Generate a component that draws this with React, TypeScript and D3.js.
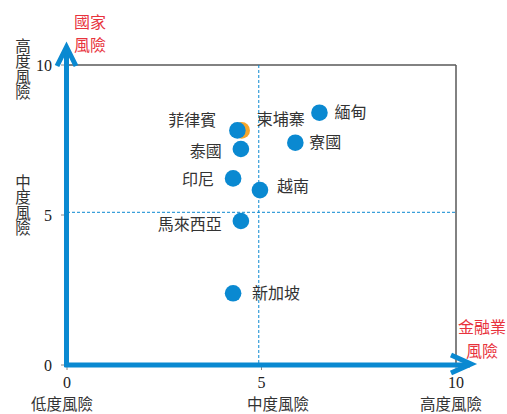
import React from "react";
import * as d3 from "d3";

// ---- data ----
const countries = ["緬甸", "寮國", "柬埔寨", "菲律賓", "泰國", "印尼", "越南", "馬來西亞", "新加坡"];
const financialRisk = [6.49, 5.87, 4.49, 4.38, 4.47, 4.27, 4.96, 4.47, 4.27];
const countryRisk = [8.41, 7.41, 7.82, 7.82, 7.2, 6.22, 5.83, 4.8, 2.39];
const seriesOf = ["blue", "blue", "orange", "blue", "blue", "blue", "blue", "blue", "blue"];
const xTicks = [0, 5, 10];
const yTicks = [0, 5, 10];
const xLevelLabels = ["低度風險", "中度風險", "高度風險"];
const yLevelLabels = ["高度風險", "中度風險"];
const refX = 4.93;
const refY = 5.09;

// ---- layout (label placement relative to each point) ----
const labelLayout: Record<string, { dx: number; dy: number; anchor: string }> = {
  "緬甸": { dx: 15, dy: 0, anchor: "start" },
  "寮國": { dx: 14, dy: 0, anchor: "start" },
  "柬埔寨": { dx: 15, dy: -11, anchor: "start" },
  "菲律賓": { dx: -21, dy: -10, anchor: "end" },
  "泰國": { dx: -19, dy: 2, anchor: "end" },
  "印尼": { dx: -19, dy: 1, anchor: "end" },
  "越南": { dx: 17, dy: -4, anchor: "start" },
  "馬來西亞": { dx: -19, dy: 3, anchor: "end" },
  "新加坡": { dx: 19, dy: 0, anchor: "start" },
};

const W = 507;
const H = 414;
const BLUE = "#0a89d1";
const ORANGE = "#f4a62c";
const RED = "#e8333d";
const CJK = "'Noto Sans CJK TC', 'Noto Sans CJK SC', sans-serif";
const NUM = "'Liberation Serif', serif";

export default function App() {
  const x = d3.scaleLinear().domain([0, 10]).range([67, 456]);
  const y = d3.scaleLinear().domain([0, 10]).range([365, 65]);
  const [x0, x1] = x.range();
  const [y0, y1] = y.range();

  const order = d3.range(countries.length).sort((a, b) =>
    seriesOf[a] === seriesOf[b] ? 0 : seriesOf[a] === "orange" ? -1 : 1
  );

  const ax = x0 - 0.5;
  const ay = y0;

  return (
    <svg
      width={W}
      height={H}
      style={{ position: "absolute", left: 0, top: 0, background: "#fff" }}
    >
      {/* plot frame (top and right) */}
      <line x1={x0} x2={x1} y1={y1} y2={y1} stroke="#595959" strokeWidth={1.5} />
      <line x1={x1} x2={x1} y1={y1} y2={y0} stroke="#595959" strokeWidth={1.5} />

      {/* reference dashed lines */}
      <line x1={x(refX)} x2={x(refX)} y1={y1} y2={y0} stroke={BLUE} strokeWidth={1} strokeDasharray="3,2" />
      <line x1={x0} x2={x1} y1={y(refY)} y2={y(refY)} stroke={BLUE} strokeWidth={1} strokeDasharray="3,2" />

      {/* y ticks */}
      {yTicks.map((t) => (
        <g key={"yt" + t}>
          <line x1={x0 - 6} x2={x0} y1={y(t)} y2={y(t)} stroke="#888" strokeWidth={1} />
          <text x={52} y={y(t)} dy="0.35em" textAnchor="end" fontFamily={NUM} fontSize={16} fill="#222">
            {t}
          </text>
        </g>
      ))}
      {/* x ticks */}
      {xTicks.map((t) => (
        <g key={"xt" + t}>
          <line x1={x(t)} x2={x(t)} y1={y0} y2={y0 + 5} stroke="#888" strokeWidth={1} />
          <text x={x(t)} y={382} dy="0.35em" textAnchor="middle" fontFamily={NUM} fontSize={16} fill="#222">
            {t}
          </text>
        </g>
      ))}

      {/* axes arrows */}
      <line x1={ax} x2={ax} y1={ay + 2} y2={y1 - 14} stroke={BLUE} strokeWidth={5} />
      <polyline
        points={`${ax - 9.5},${y1 + 1} ${ax},${y1 - 18} ${ax + 9.5},${y1 + 1}`}
        fill="none"
        stroke={BLUE}
        strokeWidth={5}
        strokeLinejoin="miter"
      />
      <line x1={ax - 2} x2={x1 + 14} y1={ay} y2={ay} stroke={BLUE} strokeWidth={5} />
      <polyline
        points={`${x1 - 5},${ay - 10} ${x1 + 15},${ay - 1} ${x1 - 5},${ay + 8}`}
        fill="none"
        stroke={BLUE}
        strokeWidth={5}
        strokeLinejoin="miter"
      />

      {/* points */}
      {order.map((i) => (
        <circle
          key={"c" + i}
          cx={x(financialRisk[i])}
          cy={y(countryRisk[i])}
          r={8.3}
          fill={seriesOf[i] === "orange" ? ORANGE : BLUE}
        />
      ))}

      {/* point labels */}
      {countries.map((c, i) => {
        const l = labelLayout[c];
        return (
          <text
            key={"l" + i}
            x={x(financialRisk[i]) + l.dx}
            y={y(countryRisk[i]) + l.dy}
            dy="0.36em"
            textAnchor={l.anchor}
            fontFamily={CJK}
            fontSize={16}
            fill="#333"
          >
            {c}
          </text>
        );
      })}

      {/* y level labels (vertical writing) */}
      {yLevelLabels.map((s, k) => (
        <text
          key={"yl" + k}
          x={23}
          y={k === 0 ? 38 : 174}
          style={{ writingMode: "vertical-rl" }}
          fontFamily={CJK}
          fontSize={15.5}
          fill="#333"
        >
          {s}
        </text>
      ))}

      {/* x level labels */}
      {xLevelLabels.map((s, k) => (
        <text
          key={"xl" + k}
          x={[62, 278, 451][k]}
          y={404}
          dy="0.36em"
          textAnchor="middle"
          fontFamily={CJK}
          fontSize={15.5}
          fill="#333"
        >
          {s}
        </text>
      ))}

      {/* axis titles */}
      <text x={90} y={22} dy="0.36em" textAnchor="middle" fontFamily={CJK} fontSize={16} fill={RED}>國家</text>
      <text x={90} y={45} dy="0.36em" textAnchor="middle" fontFamily={CJK} fontSize={16} fill={RED}>風險</text>
      <text x={482} y={327} dy="0.36em" textAnchor="middle" fontFamily={CJK} fontSize={16} fill={RED}>金融業</text>
      <text x={482} y={351} dy="0.36em" textAnchor="middle" fontFamily={CJK} fontSize={16} fill={RED}>風險</text>
    </svg>
  );
}
